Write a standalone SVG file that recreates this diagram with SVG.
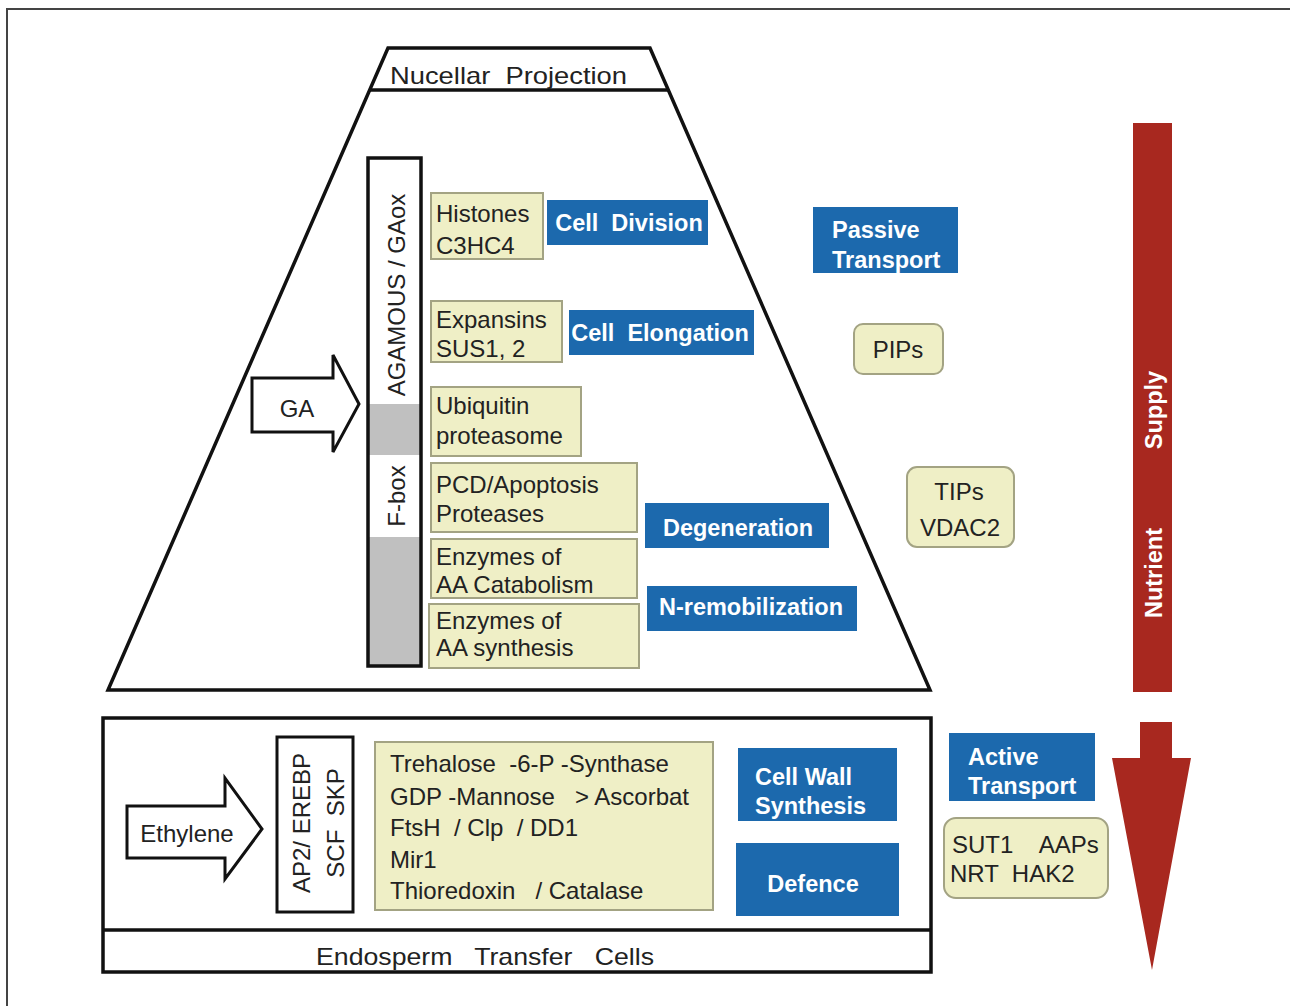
<svg xmlns="http://www.w3.org/2000/svg" width="1290" height="1006" viewBox="0 0 1290 1006" xml:space="preserve">
<style>
text{font-family:"Liberation Sans",Arial,sans-serif;font-size:24px;fill:#222;white-space:pre}
.y{fill:#efefc6;stroke:#a3a383;stroke-width:2}
.b{fill:#1c69ad}
.bt{fill:#fff;font-weight:bold;font-size:23.5px}
.k{fill:none;stroke:#111;stroke-width:3.5}
.m{text-anchor:middle}
</style>
<rect width="1290" height="1006" fill="#fff"/>
<path d="M7,1006 V9 H1290" fill="none" stroke="#444" stroke-width="2"/>

<g id="nucellar">
<path class="k" d="M388,48 H650 L930,690 H108 Z"/>
<line class="k" x1="370" y1="90" x2="668" y2="90"/>
<text x="390" y="84" font-size="27" textLength="237" lengthAdjust="spacingAndGlyphs">Nucellar  Projection</text>
</g>

<g id="agamous-bar">
<rect x="368" y="158" width="53" height="508" fill="#fff"/>
<rect x="368" y="404" width="53" height="51" fill="#c0c0c0"/>
<rect x="368" y="537" width="53" height="129" fill="#c0c0c0"/>
<rect x="368" y="158" width="53" height="508" fill="none" stroke="#111" stroke-width="3.5"/>
<text class="m" transform="translate(405,295) rotate(-90)">AGAMOUS / GAox</text>
<text class="m" transform="translate(405,496) rotate(-90)">F-box</text>
</g>

<g id="ga-arrow">
<path d="M252,378 H333 V355 L359,404 L333,452 V432 H252 Z" fill="#fff" stroke="#111" stroke-width="3"/>
<text class="m" x="297" y="417" font-size="25">GA</text>
</g>

<g id="histones"><rect class="y" x="431" y="193" width="112" height="66"/><text x="436" y="222">Histones</text><text x="436" y="254">C3HC4</text></g>
<g id="expansins"><rect class="y" x="431" y="301" width="131" height="61"/><text x="436" y="328">Expansins</text><text x="436" y="357">SUS1, 2</text></g>
<g id="ubiquitin"><rect class="y" x="431" y="387" width="150" height="69"/><text x="436" y="414">Ubiquitin</text><text x="436" y="444">proteasome</text></g>
<g id="pcd"><rect class="y" x="431" y="463" width="206" height="69"/><text x="436" y="493">PCD/Apoptosis</text><text x="436" y="522">Proteases</text></g>
<g id="aa-catabolism"><rect class="y" x="431" y="539" width="206" height="59"/><text x="436" y="565">Enzymes of</text><text x="436" y="593">AA Catabolism</text></g>
<g id="aa-synthesis"><rect class="y" x="429" y="604" width="210" height="64"/><text x="436" y="629">Enzymes of</text><text x="436" y="656">AA synthesis</text></g>

<g id="cell-division"><rect class="b" x="547" y="200" width="161" height="45"/><text class="bt m" x="629" y="231">Cell  Division</text></g>
<g id="cell-elongation"><rect class="b" x="569" y="310" width="185" height="45"/><text class="bt m" x="660" y="341">Cell  Elongation</text></g>
<g id="degeneration"><rect class="b" x="645" y="503" width="184" height="45"/><text class="bt m" x="738" y="536">Degeneration</text></g>
<g id="n-remobilization"><rect class="b" x="647" y="586" width="210" height="45"/><text class="bt m" x="751" y="615">N-remobilization</text></g>
<g id="passive-transport"><rect class="b" x="813" y="207" width="145" height="66"/><text class="bt" x="832" y="238">Passive</text><text class="bt" x="832" y="268">Transport</text></g>

<g id="pips"><rect class="y" x="854" y="324" width="89" height="50" rx="9"/><text class="m" x="898" y="358">PIPs</text></g>
<g id="tips"><rect class="y" x="907" y="467" width="107" height="80" rx="10"/><text class="m" x="959" y="500">TIPs</text><text class="m" x="960" y="536">VDAC2</text></g>

<g id="nutrient-supply">
<rect x="1133" y="123" width="39" height="569" fill="#a8281f"/>
<text class="bt m" transform="translate(1162,573) rotate(-90)" font-size="26">Nutrient</text>
<text class="bt m" transform="translate(1162,410) rotate(-90)" font-size="26">Supply</text>
</g>

<g id="endosperm">
<rect class="k" x="103" y="718" width="828" height="254"/>
<line class="k" x1="103" y1="930" x2="931" y2="930"/>
<text x="316" y="965" font-size="27" textLength="338" lengthAdjust="spacingAndGlyphs">Endosperm   Transfer   Cells</text>
</g>

<g id="ethylene-arrow">
<path d="M127,806 H225 V778 L262,829 L225,879 V858 H127 Z" fill="#fff" stroke="#111" stroke-width="3"/>
<text class="m" x="187" y="842" font-size="28">Ethylene</text>
</g>

<g id="ap2-box">
<rect x="277" y="737" width="76" height="175" fill="#fff" stroke="#111" stroke-width="3"/>
<text class="m" transform="translate(310,823) rotate(-90)">AP2/ EREBP</text>
<text class="m" transform="translate(344,823) rotate(-90)">SCF  SKP</text>
</g>

<g id="gene-list">
<rect class="y" x="375" y="742" width="338" height="168"/>
<text x="390" y="772">Trehalose  -6-P -Synthase</text>
<text x="390" y="805">GDP -Mannose   &gt; Ascorbat</text>
<text x="390" y="836">FtsH  / Clp  / DD1</text>
<text x="390" y="868">Mir1</text>
<text x="390" y="899">Thioredoxin   / Catalase</text>
</g>

<g id="cell-wall"><rect class="b" x="738" y="748" width="159" height="73"/><text class="bt" x="755" y="785">Cell Wall</text><text class="bt" x="755" y="814">Synthesis</text></g>
<g id="defence"><rect class="b" x="736" y="843" width="163" height="73"/><text class="bt m" x="813" y="892">Defence</text></g>
<g id="active-transport"><rect class="b" x="949" y="733" width="146" height="68"/><text class="bt" x="968" y="765">Active</text><text class="bt" x="968" y="794">Transport</text></g>
<g id="sut1"><rect class="y" x="944" y="818" width="164" height="80" rx="12"/><text x="952" y="853">SUT1    AAPs</text><text x="950" y="882">NRT  HAK2</text></g>

<g id="connectors">
<path d="M1140,722 H1172 V758 H1191 L1152,970 L1112,758 H1140 Z" fill="#a8281f"/>
</g>
</svg>
